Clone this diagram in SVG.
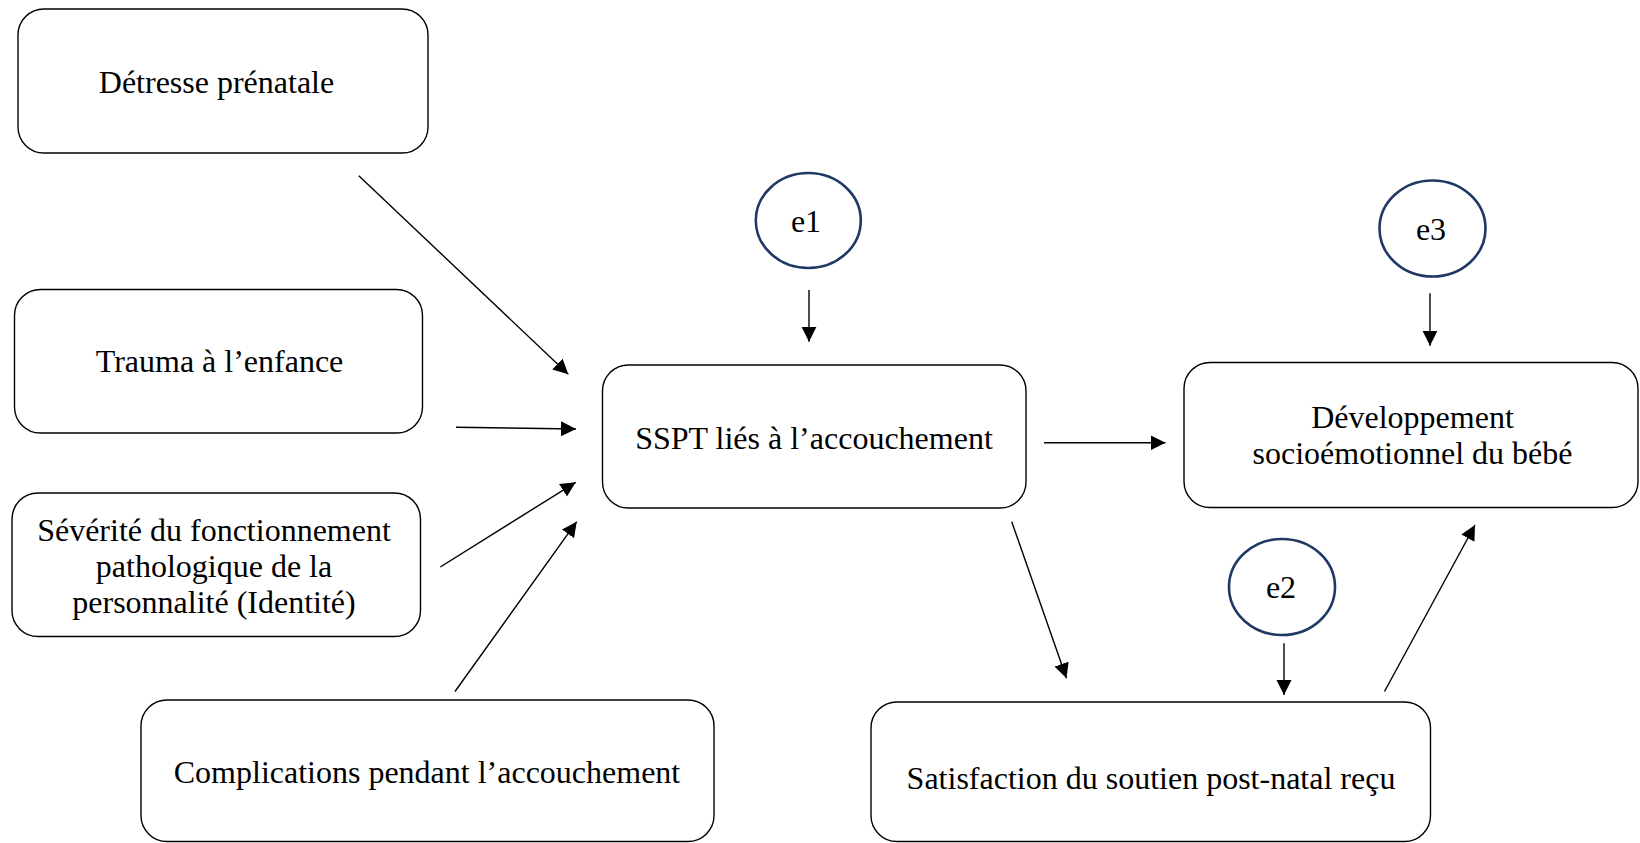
<svg xmlns="http://www.w3.org/2000/svg" width="1640" height="843" viewBox="0 0 1640 843">
  <style>
    .box { fill: #ffffff; stroke: #000000; stroke-width: 1.4; }
    .err { fill: #ffffff; stroke: #1F3864; stroke-width: 2.6; }
    .lbl { font-family: "Liberation Serif", "Times New Roman", serif; font-size: 32px; fill: #000000; text-anchor: middle; }
    .edge { stroke: #000000; stroke-width: 1.4; fill: none; marker-end: url(#arrow); }
  </style>
  <defs>
    <marker id="arrow" markerUnits="userSpaceOnUse" markerWidth="16" markerHeight="16" viewBox="0 0 16 16" refX="15" refY="8" orient="auto">
      <path d="M0,0.5 L15,8 L0,15.5 Z" fill="#000000"/>
    </marker>
  </defs>
  <rect width="1640" height="843" fill="#ffffff"/>

  <g id="connectors">
    <line class="edge" x1="358.8" y1="175.7" x2="568.3" y2="374.3"/>
    <line class="edge" x1="456" y1="427.3" x2="576" y2="429"/>
    <line class="edge" x1="440.3" y1="567" x2="575.7" y2="482.3"/>
    <line class="edge" x1="455" y1="691.5" x2="576.7" y2="521.7"/>
    <line class="edge" x1="809" y1="290" x2="809" y2="341.7"/>
    <line class="edge" x1="1044" y1="442.7" x2="1165.5" y2="442.7"/>
    <line class="edge" x1="1430" y1="293.3" x2="1430" y2="345.7"/>
    <line class="edge" x1="1011.7" y1="521.7" x2="1066.5" y2="678.3"/>
    <line class="edge" x1="1284" y1="643.3" x2="1284" y2="695"/>
    <line class="edge" x1="1384.5" y1="691.5" x2="1475" y2="525"/>
  </g>

  <g id="node-detresse">
    <rect class="box" x="18" y="9" width="410" height="144" rx="26" ry="26"/>
    <text class="lbl" x="216.5" y="93">Détresse prénatale</text>
  </g>
  <g id="node-trauma">
    <rect class="box" x="14.5" y="289.5" width="408" height="143.5" rx="26" ry="26"/>
    <text class="lbl" x="219.5" y="372">Trauma à l’enfance</text>
  </g>
  <g id="node-severite">
    <rect class="box" x="12" y="493" width="408.5" height="143.5" rx="26" ry="26"/>
    <text class="lbl" x="214" y="541">Sévérité du fonctionnement</text>
    <text class="lbl" x="214" y="577">pathologique de la</text>
    <text class="lbl" x="214" y="613">personnalité (Identité)</text>
  </g>
  <g id="node-complications">
    <rect class="box" x="141" y="700" width="573" height="141.5" rx="26" ry="26"/>
    <text class="lbl" x="427" y="783">Complications pendant l’accouchement</text>
  </g>
  <g id="node-sspt">
    <rect class="box" x="602.5" y="365" width="423.5" height="143" rx="26" ry="26"/>
    <text class="lbl" x="814" y="449">SSPT liés à l’accouchement</text>
  </g>
  <g id="node-developpement">
    <rect class="box" x="1184" y="362.5" width="454" height="145" rx="26" ry="26"/>
    <text class="lbl" x="1412.5" y="428">Développement</text>
    <text class="lbl" x="1412.5" y="464">socioémotionnel du bébé</text>
  </g>
  <g id="node-satisfaction">
    <rect class="box" x="871" y="702" width="559.5" height="139.5" rx="26" ry="26"/>
    <text class="lbl" x="1151" y="789">Satisfaction du soutien post-natal reçu</text>
  </g>
  <g id="node-e1">
    <ellipse class="err" cx="808.3" cy="220.5" rx="52.5" ry="47.5"/>
    <text class="lbl" x="806" y="232">e1</text>
  </g>
  <g id="node-e2">
    <ellipse class="err" cx="1282" cy="587" rx="53" ry="48"/>
    <text class="lbl" x="1281" y="598">e2</text>
  </g>
  <g id="node-e3">
    <ellipse class="err" cx="1432.5" cy="228.5" rx="53" ry="48"/>
    <text class="lbl" x="1431" y="240">e3</text>
  </g>
</svg>
